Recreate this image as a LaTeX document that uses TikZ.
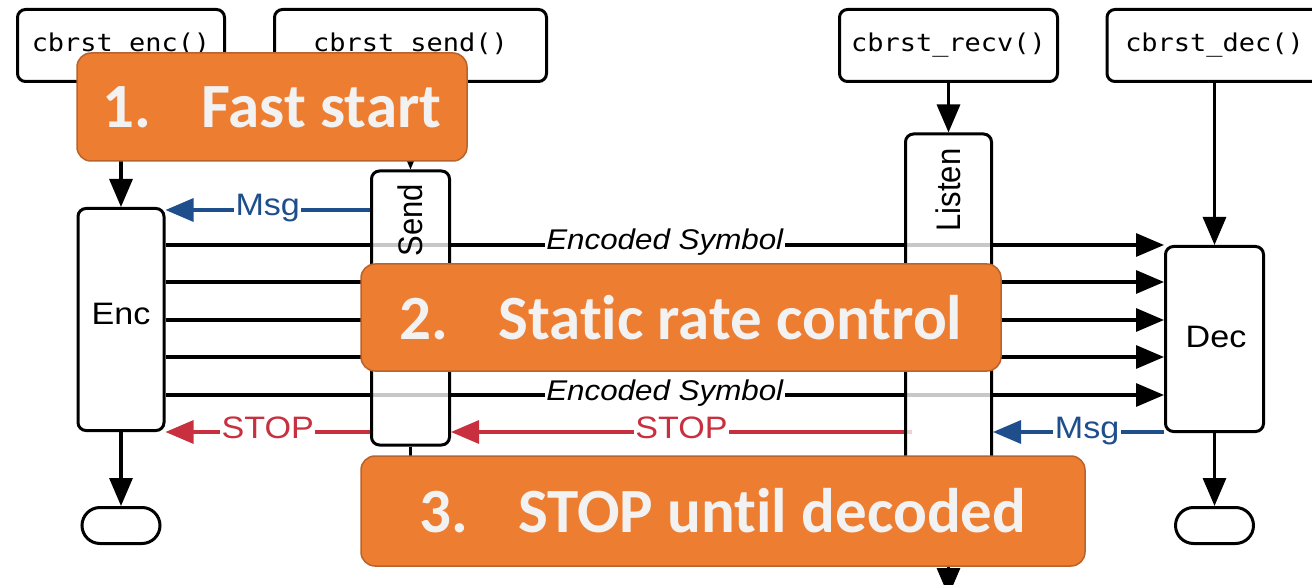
\documentclass[tikz,border=0pt]{standalone}
\usepackage{fontspec}
\setmainfont{Liberation Sans}
\newfontfamily\monof{DejaVu Sans Mono}
\newfontfamily\calib[Ligatures=NoCommon]{Carlito}
\usetikzlibrary{arrows.meta}
\pgfdeclarelayer{bg}
\pgfdeclarelayer{fg}
\pgfsetlayers{bg,main,fg}
\definecolor{oranj}{HTML}{ED7D31}
\definecolor{oranjb}{HTML}{B8632B}
\definecolor{calltext}{HTML}{F2F2F2}
\definecolor{msgblue}{HTML}{1F4E8C}
\definecolor{stopred}{HTML}{C8303F}
\newcommand{\hs}[1]{\scalebox{1.1}[1]{#1}}
\newcommand{\vs}[1]{\scalebox{1}[1.1]{#1}}
\begin{document}
\begin{tikzpicture}[x=1pt,y=-1pt,
  fnbox/.style={draw,line width=3pt,rounded corners=8pt,minimum height=72pt,inner sep=0pt,fill=white,
    font=\monof\fontsize{24.5}{28}\selectfont},
  actbox/.style={draw,line width=3pt,rounded corners=8pt,fill=white,inner sep=0pt},
  lanebox/.style={draw,line width=3pt,rounded corners=8pt,fill=white,fill opacity=0.78,inner sep=0pt},
  termbox/.style={draw,line width=3pt,rounded corners=18pt,minimum width=78pt,minimum height=36pt,inner sep=0pt},
  callout/.style={draw=oranjb,line width=1.5pt,fill=oranj,rounded corners=14pt,text=calltext,inner sep=0pt,
    font=\calib\bfseries\fontsize{63}{72}\selectfont},
  big/.style={font=\fontsize{31}{36}\selectfont},
  flow/.style={line width=3.2pt,-{Triangle[length=28pt,width=23pt]}},
  lab/.style={fill=white,inner sep=1.5pt,anchor=base,yshift=-6pt,font=\fontsize{31}{36}\selectfont},
  elab/.style={fill=white,inner sep=1.5pt,anchor=base,yshift=-5pt,font=\itshape\fontsize{28.5}{32}\selectfont}
]
\useasboundingbox (0,0) rectangle (1312,585);

% function boxes
\node[fnbox,minimum width=207pt] (fenc)  at (121,45.5)   {\hs{cbrst\_enc()}};
\node[fnbox,minimum width=272pt] (fsend) at (410.5,45.5) {\hs{cbrst\_send()}};
\node[fnbox,minimum width=218pt] (frecv) at (948.5,45.5) {\hs{cbrst\_recv()}};
\node[fnbox,minimum width=215pt] (fdec)  at (1214.5,45.5){\hs{cbrst\_dec()}};

% activity boxes
\node[actbox,minimum width=86pt,minimum height=222pt] (Enc) at (121,319.5) {};
\node[actbox,minimum width=98pt,minimum height=185pt] (Dec) at (1214.5,339) {};
\node[lanebox,minimum width=78pt,minimum height=274pt] (Send) at (410.5,308) {};
\node[lanebox,minimum width=86pt,minimum height=416pt] (Listen) at (948.5,342) {};

\node[big] (encl) at (121,314) {\hs{Enc}};
\node[big] (decl) at (1216,336.5) {\hs{Dec}};
\node[big,rotate=90] (sendl) at (410.5,220) {\vs{Send}};
\node[big,rotate=90] (listenl) at (948.5,190) {\vs{Listen}};

% terminals
\node[termbox] (tEnc) at (121,525.5) {};
\node[termbox] (tDec) at (1214.5,525.5) {};

\coordinate (sendout) at (410.5,490);
\coordinate (listenout) at (948.5,596);

\begin{pgfonlayer}{bg}
\draw[flow] (fenc) -- (Enc);
\draw[flow] (fsend) -- (Send);
\draw[flow] (frecv) -- (Listen);
\draw[flow] (fdec) -- (Dec);
\draw[flow] (Enc) -- (tEnc);
\draw[flow] (Dec) -- (tDec);
\draw[line width=3.2pt] (Send) -- (sendout);
\draw[flow] (Listen) -- (listenout);

\draw[flow] (Enc.east |- 0,245) -- (Dec.west |- 0,245) node[elab,pos=0.5] {\hs{Encoded Symbol}};
\draw[flow] (Enc.east |- 0,282) -- (Dec.west |- 0,282);
\draw[flow] (Enc.east |- 0,320) -- (Dec.west |- 0,320);
\draw[flow] (Enc.east |- 0,357) -- (Dec.west |- 0,357);
\draw[flow] (Enc.east |- 0,395) -- (Dec.west |- 0,395) node[elab,pos=0.5] {\hs{Encoded Symbol}};

\draw[flow,msgblue] (Send.west |- 0,210) -- (Enc.east |- 0,210) node[lab,text=msgblue,pos=0.5] {\hs{Msg}};
\draw[flow,stopred] (Send.west |- 0,432) -- (Enc.east |- 0,432) node[lab,text=stopred,pos=0.5] {\hs{STOP}};
\draw[flow,stopred] ([xshift=8pt]Listen.west |- 0,432) -- (Send.east |- 0,432) node[lab,text=stopred,pos=0.5] {\hs{STOP}};
\draw[flow,msgblue] (Dec.west |- 0,432) -- (Listen.east |- 0,432) node[lab,text=msgblue,pos=0.45] {\hs{Msg}};
\end{pgfonlayer}

\begin{pgfonlayer}{fg}
\node[callout,minimum width=390pt,minimum height=108pt] (c1) at (272,107) {1.\hspace{50pt}Fast start};
\node[callout,minimum width=640pt,minimum height=107pt] (c2) at (681,317.5) {2.\hspace{50pt}Static rate control};
\node[callout,minimum width=724pt,minimum height=110pt] (c3) at (723,511) {3.\hspace{50pt}STOP until decoded};
\end{pgfonlayer}
\end{tikzpicture}
\end{document}
